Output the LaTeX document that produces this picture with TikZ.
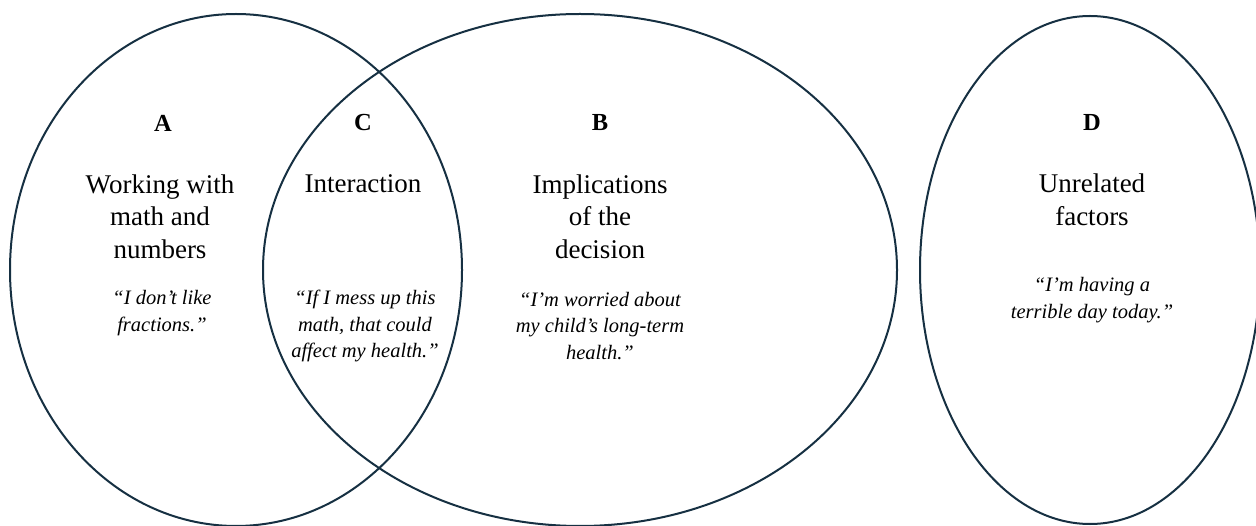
\documentclass[tikz,border=0pt]{standalone}
\usepackage{fontspec}
\setmainfont{Liberation Serif}
\definecolor{ring}{RGB}{22,48,66}
\begin{document}
\begin{tikzpicture}[x=1pt,y=-1pt,
  ring/.style={draw=ring,line width=2pt},
  lab/.style={font=\fontsize{24.5}{28}\selectfont\bfseries,align=center},
  ttl/.style={font=\fontsize{27}{32.5}\selectfont,align=center},
  quo/.style={font=\fontsize{20.5}{26.5}\selectfont\itshape,align=center}]
\useasboundingbox (0,0) rectangle (1256,526);
\fill[white] (0,0) rectangle (1256,526);
\draw[ring] (236,270) ellipse [x radius=226pt, y radius=256pt];
\draw[ring] (580,270) ellipse [x radius=317pt, y radius=256pt];
\draw[ring] (1090,270) ellipse [x radius=170pt, y radius=254pt];
% A
\node[lab] (la) at (163,123) {A};
\node[ttl] (ta) at (160,216.5) {Working with\\math and\\numbers};
\node[quo] (qa) at (162,313) {``I don’t like\\fractions.''};
% C
\node[lab] (lc) at (363,123) {C};
\node[ttl] (tc) at (363,184) {Interaction};
\node[quo] (qc) at (365,326) {``If I mess up this\\math, that could\\affect my health.''};
% B
\node[lab] (lb) at (600,123) {B};
\node[ttl] (tb) at (600,216.5) {Implications\\of the\\decision};
\node[quo] (qb) at (600,326) {``I’m worried about\\my child’s long-term\\health.''};
% D
\node[lab] (ld) at (1092,123) {D};
\node[ttl] (td) at (1092,200) {Unrelated\\factors};
\node[quo] (qd) at (1092,300) {``I’m having a\\terrible day today.''};
\end{tikzpicture}
\end{document}
